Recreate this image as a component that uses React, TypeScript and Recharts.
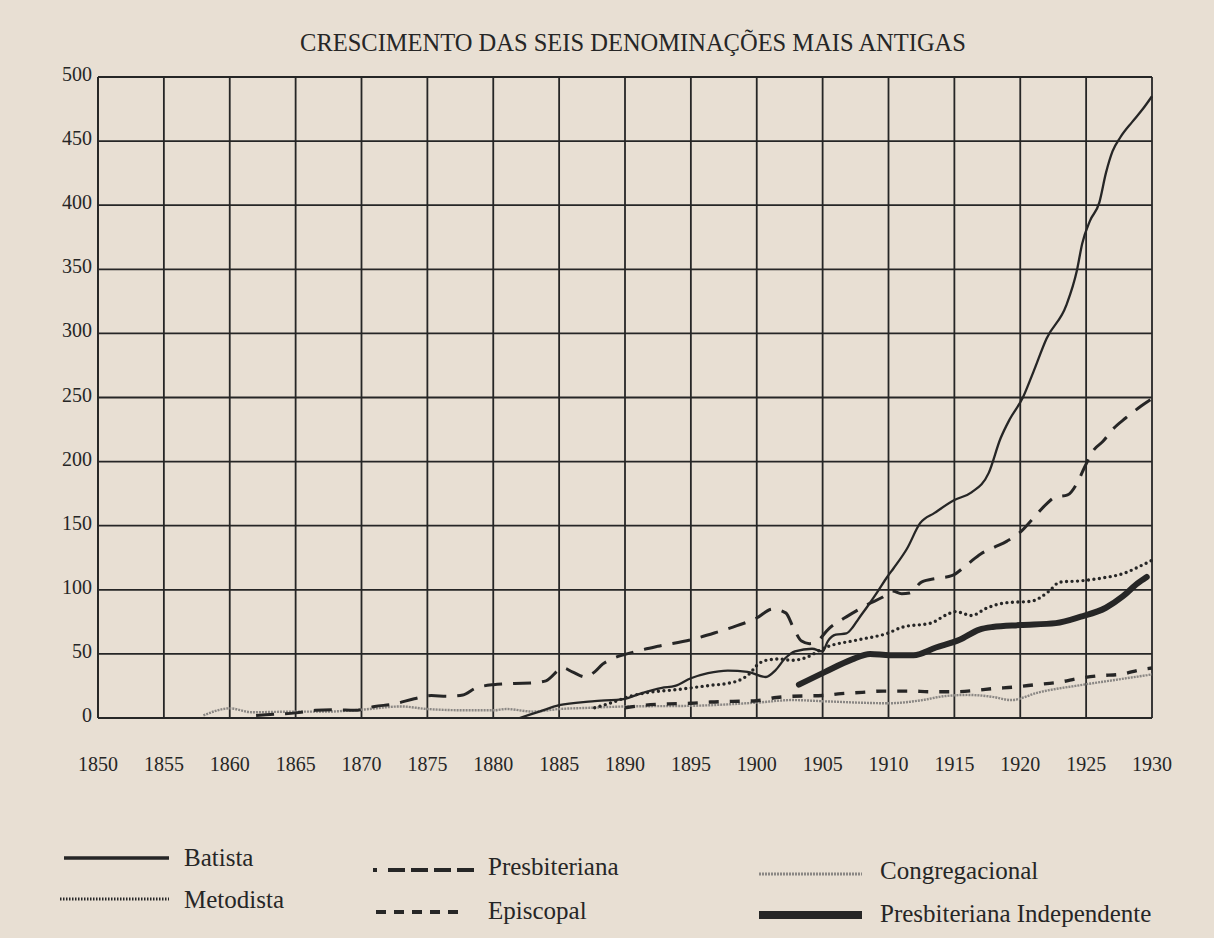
import React from "react";
import { LineChart, Line, XAxis, YAxis, CartesianGrid } from "recharts";

const yearTicks = [1850, 1855, 1860, 1865, 1870, 1875, 1880, 1885, 1890, 1895, 1900, 1905, 1910, 1915, 1920, 1925, 1930];
const valueTicks = [0, 50, 100, 150, 200, 250, 300, 350, 400, 450, 500];

const batista = [
  { year: 1882, v: 0 }, { year: 1883.5, v: 5 }, { year: 1885, v: 10 }, { year: 1887.5, v: 13 },
  { year: 1890, v: 15 }, { year: 1891, v: 18.5 }, { year: 1892.8, v: 23.5 }, { year: 1893.8, v: 25 },
  { year: 1895, v: 31 }, { year: 1896.3, v: 35 }, { year: 1897.8, v: 37 }, { year: 1899.3, v: 36 },
  { year: 1900.7, v: 32 }, { year: 1901.4, v: 37 }, { year: 1902.2, v: 47 }, { year: 1902.9, v: 52 },
  { year: 1904.2, v: 54 }, { year: 1905, v: 52 }, { year: 1905.4, v: 60 }, { year: 1906, v: 65 },
  { year: 1906.8, v: 66 }, { year: 1907.3, v: 71 }, { year: 1907.7, v: 77 }, { year: 1908.4, v: 87 },
  { year: 1909.2, v: 99 }, { year: 1909.9, v: 110 }, { year: 1910.4, v: 117 }, { year: 1911.4, v: 132 },
  { year: 1912.4, v: 152 }, { year: 1913.5, v: 160 }, { year: 1915, v: 170 }, { year: 1916.3, v: 176 },
  { year: 1917.6, v: 191 }, { year: 1918.5, v: 218 }, { year: 1919.2, v: 233 }, { year: 1920.2, v: 250 },
  { year: 1921, v: 270 }, { year: 1922, v: 296 }, { year: 1923.5, v: 322 }, { year: 1924.3, v: 349 },
  { year: 1924.7, v: 370 }, { year: 1925.3, v: 388 }, { year: 1926, v: 402 }, { year: 1926.5, v: 425 },
  { year: 1927, v: 442 }, { year: 1927.6, v: 453 }, { year: 1928.5, v: 465 }, { year: 1929.3, v: 475 },
  { year: 1930, v: 485 },
];

const presbiteriana = [
  { year: 1862, v: 2 }, { year: 1863.5, v: 3 }, { year: 1865, v: 4 }, { year: 1866.5, v: 6 },
  { year: 1868, v: 6.5 }, { year: 1869.5, v: 6 }, { year: 1871, v: 9 }, { year: 1872.5, v: 11 },
  { year: 1874, v: 15 }, { year: 1875.3, v: 17.5 }, { year: 1876.5, v: 17 }, { year: 1877.7, v: 18 },
  { year: 1878.6, v: 23 }, { year: 1880, v: 26 }, { year: 1881.6, v: 27 }, { year: 1883.1, v: 27.5 },
  { year: 1884, v: 29 }, { year: 1885.3, v: 39 }, { year: 1886, v: 36 }, { year: 1887, v: 32 },
  { year: 1887.7, v: 36 }, { year: 1888.3, v: 42 }, { year: 1889, v: 46 }, { year: 1890.5, v: 51 },
  { year: 1892.5, v: 56 }, { year: 1895, v: 61 }, { year: 1897, v: 67 }, { year: 1898.5, v: 72 },
  { year: 1900, v: 78 }, { year: 1901.2, v: 85 }, { year: 1902.2, v: 82 }, { year: 1902.8, v: 70 },
  { year: 1903.4, v: 60 }, { year: 1904, v: 58 }, { year: 1904.6, v: 60 }, { year: 1905.5, v: 70 },
  { year: 1906.5, v: 77 }, { year: 1907.3, v: 82 }, { year: 1908.5, v: 89 }, { year: 1909.5, v: 94 },
  { year: 1910.3, v: 99 }, { year: 1911, v: 97 }, { year: 1911.6, v: 97.5 }, { year: 1912.5, v: 106 },
  { year: 1913.7, v: 109 }, { year: 1914.8, v: 111 }, { year: 1916, v: 120 }, { year: 1917, v: 128 },
  { year: 1918, v: 133 }, { year: 1919, v: 138 }, { year: 1920, v: 145 }, { year: 1921, v: 156 },
  { year: 1922, v: 167 }, { year: 1922.6, v: 172 }, { year: 1923.6, v: 174 }, { year: 1924.3, v: 183 },
  { year: 1924.9, v: 196 }, { year: 1925.5, v: 208 }, { year: 1926.3, v: 216 }, { year: 1927, v: 225 },
  { year: 1928, v: 234 }, { year: 1929, v: 242 }, { year: 1930, v: 249 },
];

const metodista = [
  { year: 1887.7, v: 8 }, { year: 1889, v: 12 }, { year: 1890.4, v: 17 }, { year: 1891.8, v: 20 },
  { year: 1893.8, v: 22 }, { year: 1895, v: 23.5 }, { year: 1896.5, v: 25.5 }, { year: 1897.8, v: 27 },
  { year: 1898.8, v: 30 }, { year: 1899.5, v: 35 }, { year: 1900, v: 41 }, { year: 1900.7, v: 45 },
  { year: 1901.7, v: 46 }, { year: 1902.7, v: 45 }, { year: 1903.7, v: 47 }, { year: 1905.2, v: 55 },
  { year: 1907.7, v: 61 }, { year: 1909.9, v: 66 }, { year: 1911.1, v: 71 }, { year: 1913.2, v: 74 },
  { year: 1914.5, v: 81 }, { year: 1915.1, v: 83 }, { year: 1916.3, v: 80 }, { year: 1917.5, v: 86 },
  { year: 1919, v: 90 }, { year: 1920.8, v: 91 }, { year: 1922.2, v: 99 }, { year: 1923, v: 106 },
  { year: 1924.6, v: 107 }, { year: 1926.1, v: 109 }, { year: 1927.9, v: 113 }, { year: 1929.4, v: 120 },
  { year: 1930, v: 123 },
];

const episcopal = [
  { year: 1890, v: 8 }, { year: 1891.5, v: 10 }, { year: 1893.3, v: 11 }, { year: 1895, v: 11.5 },
  { year: 1896.5, v: 12.5 }, { year: 1898.2, v: 13 }, { year: 1900, v: 13.5 }, { year: 1901.5, v: 16 },
  { year: 1902.7, v: 17 }, { year: 1905, v: 17.5 }, { year: 1906.4, v: 19 }, { year: 1908, v: 20 },
  { year: 1909.6, v: 21 }, { year: 1911.5, v: 21 }, { year: 1913.3, v: 20.5 }, { year: 1915, v: 20.5 },
  { year: 1916.7, v: 21.6 }, { year: 1918, v: 23 }, { year: 1919.4, v: 24 }, { year: 1921.2, v: 26 },
  { year: 1923, v: 28 }, { year: 1924.5, v: 31 }, { year: 1926, v: 33 }, { year: 1927.6, v: 34 },
  { year: 1929.3, v: 38 }, { year: 1930, v: 39 },
];

const congregacional = [
  { year: 1858, v: 2 }, { year: 1860, v: 7.5 }, { year: 1861.7, v: 4.5 }, { year: 1865, v: 5 },
  { year: 1867.3, v: 5 }, { year: 1870, v: 6.5 }, { year: 1873, v: 9 }, { year: 1875, v: 7 },
  { year: 1878, v: 6 }, { year: 1880, v: 6 }, { year: 1881, v: 7 }, { year: 1883, v: 5 },
  { year: 1885, v: 7 }, { year: 1887.5, v: 8 }, { year: 1890, v: 9 }, { year: 1895, v: 9.5 },
  { year: 1900, v: 12 }, { year: 1902.7, v: 14 }, { year: 1905.2, v: 13 }, { year: 1910, v: 11.5 },
  { year: 1912.6, v: 14 }, { year: 1914.2, v: 17 }, { year: 1916, v: 18 }, { year: 1917.9, v: 16.5 },
  { year: 1919.3, v: 14 }, { year: 1921.4, v: 20 }, { year: 1924.8, v: 26 }, { year: 1927.4, v: 30 },
  { year: 1930, v: 34 },
];

const presbIndependente = [
  { year: 1903.2, v: 26 }, { year: 1905.2, v: 36 }, { year: 1907.2, v: 45.5 }, { year: 1908.6, v: 50 },
  { year: 1910.1, v: 49 }, { year: 1911.9, v: 49 }, { year: 1913.6, v: 55 }, { year: 1915.4, v: 61 },
  { year: 1916.9, v: 69 }, { year: 1917.9, v: 71 }, { year: 1920, v: 72.5 }, { year: 1922.7, v: 74 },
  { year: 1924.6, v: 79 }, { year: 1926.5, v: 86 }, { year: 1927.8, v: 95 }, { year: 1928.9, v: 105 },
  { year: 1929.6, v: 110 },
];

const TITLE = "CRESCIMENTO DAS SEIS DENOMINAÇÕES MAIS ANTIGAS";
const FONT = "'Liberation Serif', 'Times New Roman', serif";
const INK = "#262626";

const XTick = (props: any) => {
  const { x, y, payload } = props;
  return (
    <text x={x} y={y + 53} textAnchor="middle" fontSize={20} fontFamily={FONT} fill={INK}>
      {payload.value}
    </text>
  );
};

const YTick = (props: any) => {
  const { x, y, payload } = props;
  return (
    <text x={x - 6} y={y + 4} textAnchor="end" fontSize={20} fontFamily={FONT} fill={INK}>
      {payload.value}
    </text>
  );
};

const Legend = () => (
  <svg width={1214} height={938} style={{ position: "absolute", left: 0, top: 0, pointerEvents: "none" }}>
    <g fontFamily={FONT} fontSize={25} fill={INK}>
      <line x1={64} x2={169} y1={858} y2={858} stroke={INK} strokeWidth={3.5} />
      <text x={184} y={866}>Batista</text>
      <line x1={60} x2={169} y1={899} y2={899} stroke={INK} strokeWidth={3} strokeDasharray="1.5 1.5" />
      <text x={184} y={908}>Metodista</text>

      <line x1={373} x2={377} y1={870} y2={870} stroke={INK} strokeWidth={4} />
      <line x1={388} x2={474} y1={870} y2={870} stroke={INK} strokeWidth={4} strokeDasharray="17 6" />
      <text x={488} y={875}>Presbiteriana</text>
      <line x1={376} x2={466} y1={912} y2={912} stroke={INK} strokeWidth={4} strokeDasharray="10 8" />
      <text x={488} y={919}>Episcopal</text>

      <line x1={759} x2={862} y1={874} y2={874} stroke="#8a8784" strokeWidth={3} strokeDasharray="2 1" />
      <text x={880} y={879}>Congregacional</text>
      <line x1={759} x2={862} y1={915} y2={915} stroke={INK} strokeWidth={8} />
      <text x={880} y={922}>Presbiteriana Independente</text>
    </g>
  </svg>
);

export default function App() {
  return (
    <div
      style={{
        position: "absolute",
        left: 0,
        top: 0,
        width: 1214,
        height: 938,
        background: "#e8dfd3",
        overflow: "hidden",
      }}
    >
      <div
        style={{
          position: "absolute",
          top: 29,
          left: 0,
          width: 1266,
          textAlign: "center",
          fontFamily: FONT,
          fontSize: 24.5,
          color: INK,
        }}
      >
        {TITLE}
      </div>
      <div style={{ position: "absolute", left: 0, top: 0 }}>
        <LineChart width={1214} height={938} margin={{ top: 77, left: 0, right: 62, bottom: 160 }}>
          <CartesianGrid stroke={INK} strokeWidth={1.8} />
          <XAxis
            dataKey="year"
            type="number"
            domain={[1850, 1930]}
            ticks={yearTicks}
            tick={<XTick />}
            tickLine={false}
            tickSize={0}
            tickMargin={0}
            axisLine={{ stroke: INK, strokeWidth: 1.8 }}
            height={60}
            interval={0}
          />
          <YAxis
            type="number"
            domain={[0, 500]}
            ticks={valueTicks}
            tick={<YTick />}
            tickLine={false}
            tickSize={0}
            tickMargin={0}
            axisLine={{ stroke: INK, strokeWidth: 1.8 }}
            width={98}
            interval={0}
          />
          <Line data={congregacional} dataKey="v" type="monotone" stroke="#8a8784" strokeWidth={2.4} strokeDasharray="2 1" dot={false} isAnimationActive={false} />
          <Line data={episcopal} dataKey="v" type="monotone" stroke={INK} strokeWidth={3.4} strokeDasharray="10 11" dot={false} isAnimationActive={false} />
          <Line data={presbiteriana} dataKey="v" type="monotone" stroke={INK} strokeWidth={3} strokeDasharray="18 11" dot={false} isAnimationActive={false} />
          <Line data={metodista} dataKey="v" type="monotone" stroke={INK} strokeWidth={3.4} strokeDasharray="0 5.5" strokeLinecap="round" dot={false} isAnimationActive={false} />
          <Line data={presbIndependente} dataKey="v" type="monotone" stroke={INK} strokeWidth={6} strokeLinecap="round" dot={false} isAnimationActive={false} />
          <Line data={batista} dataKey="v" type="monotone" stroke={INK} strokeWidth={2.3} dot={false} isAnimationActive={false} />
        </LineChart>
      </div>
      <Legend />
    </div>
  );
}
